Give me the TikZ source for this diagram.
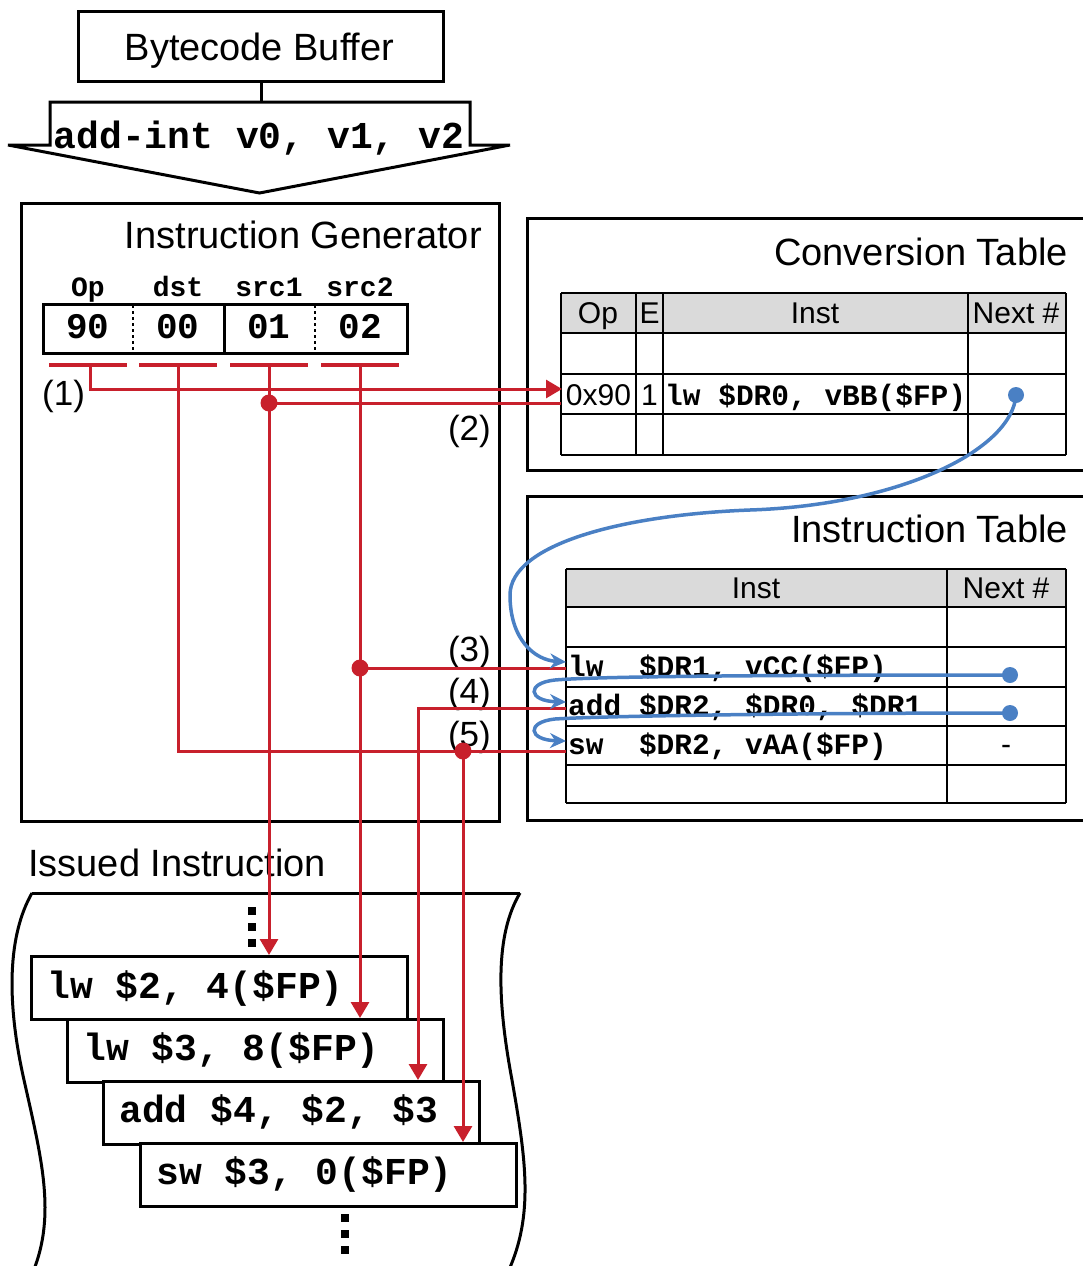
\documentclass[tikz,border=0pt]{standalone}
\usepackage{fontspec}
\setmainfont{Liberation Sans}
\setmonofont{Liberation Mono}
\usetikzlibrary{arrows.meta}
\definecolor{cred}{RGB}{200,32,44}
\definecolor{cblue}{RGB}{74,128,196}
\definecolor{chdr}{RGB}{218,218,218}
\begin{document}
\begin{tikzpicture}[x=1pt,y=-1pt,
  box/.style={draw,line width=3pt},
  grid/.style={draw,line width=2.5pt},
  sansA/.style={font=\fontsize{38}{40}\selectfont},
  sansB/.style={font=\fontsize{30}{32}\selectfont},
  sansC/.style={font=\fontsize{35}{37}\selectfont},
  monoA/.style={font=\fontsize{38}{40}\selectfont\ttfamily\bfseries},
  monoV/.style={font=\fontsize{36}{40}\selectfont\ttfamily\bfseries},
  monoB/.style={font=\fontsize{29.5}{31}\selectfont\ttfamily\bfseries},
  monoC/.style={font=\fontsize{28}{30}\selectfont\ttfamily\bfseries},
  txt/.style={inner sep=0pt},
  redl/.style={draw=cred,line width=3pt},
  redu/.style={draw=cred,line width=4.5pt},
  redarr/.style={redl,-{Triangle[length=16pt,width=18pt]}},
  bluel/.style={draw=cblue,line width=3.5pt,-{Stealth[length=16pt,width=15pt]}},
  dotr/.style={fill=cred,circle,inner sep=0pt,minimum size=17pt},
  dotb/.style={fill=cblue,circle,inner sep=0pt,minimum size=16pt},
  ibox/.style={box,fill=white,anchor=north west,minimum width=376pt,minimum height=63pt,inner sep=0pt},
]
\useasboundingbox (0,0) rectangle (1082,1266);

% ---------- Bytecode buffer ----------
\node[box,minimum width=365pt,minimum height=70pt,anchor=north west] (bb) at (77,10) {};
\node[txt,sansA,anchor=base] (bbt) at (259.5,60) {Bytecode Buffer};
\coordinate (bcin) at (bb.south |- 0,102);
\draw[box] (bb.south) -- (bcin);
\draw[box,line join=miter] (50,102) -- (470,102) -- (470,145) -- (510,145) -- (259.5,193) -- (8,145) -- (50,145) -- cycle;
\node[txt,monoA,anchor=base] (bct) at (259,148) {add-int v0, v1, v2};

% ---------- Instruction generator ----------
\node[box,minimum width=478pt,minimum height=618pt,anchor=north west] (ig) at (20,202) {};
\node[txt,sansA,anchor=base east] (igt) at (482,248) {Instruction Generator};
\node[txt,monoC,anchor=base] (lop) at (88,296) {Op};
\node[txt,monoC,anchor=base] (ldst) at (178,296) {dst};
\node[txt,monoC,anchor=base] (ls1) at (269,296) {src1};
\node[txt,monoC,anchor=base] (ls2) at (360,296) {src2};
\node[box,minimum width=364pt,minimum height=49pt,anchor=north west] (fld) at (42,303) {};
\draw[line width=2.5pt,dash pattern=on 3pt off 3pt] (133,305) -- (133,350);
\draw[line width=3pt] (224,303) -- (224,352);
\draw[line width=2.5pt,dash pattern=on 3pt off 3pt] (315,305) -- (315,350);
\node[txt,monoV,anchor=base] (vop) at (88,338) {90};
\node[txt,monoV,anchor=base] (vdst) at (178,338) {00};
\node[txt,monoV,anchor=base] (vs1) at (269,338) {01};
\node[txt,monoV,anchor=base] (vs2) at (360,338) {02};
\draw[redu] (49,365) -- (127,365);
\draw[redu] (139,365) -- (217,365);
\draw[redu] (230,365) -- (308,365);
\draw[redu] (321,365) -- (399,365);
\coordinate (op) at (90,365);
\coordinate (dst) at (178,365);
\coordinate (s1) at (269,365);
\coordinate (s2) at (360,365);
\node[txt,sansC,anchor=base west] (n1) at (42,405) {(1)};
\node[txt,sansC,anchor=base east] (n2) at (491,440) {(2)};
\node[txt,sansC,anchor=base east] (n3) at (491,661) {(3)};
\node[txt,sansC,anchor=base east] (n4) at (491,703) {(4)};
\node[txt,sansC,anchor=base east] (n5) at (491,746) {(5)};

% ---------- Conversion table ----------
\draw[box] (1095,218) -- (527,218) -- (527,470) -- (1095,470);
\node[txt,sansA,anchor=base east] (ctt) at (1068,265) {Conversion Table};
\fill[chdr] (561,293) rectangle (1066,333);
\foreach \yy in {293,333,374,414,455} \draw[grid] (561,\yy) -- (1066,\yy);
\foreach \xx in {561,636,663,968,1066} \draw[grid] (\xx,293) -- (\xx,455);
\node[txt,sansB,anchor=base] (cth1) at (598,323) {Op};
\node[txt,sansB,anchor=base] (cth2) at (649.5,323) {E};
\node[txt,sansB,anchor=base] (cth3) at (815,323) {Inst};
\node[txt,sansB,anchor=base] (cth4) at (1016,323) {Next \#};
\node[txt,sansB,anchor=base] (ctop) at (598.5,405) {0x90};
\node[txt,sansB,anchor=base] (cte) at (649.5,405) {1};
\node[txt,monoB,anchor=base west] (ctinst) at (665,405) {lw \$DR0, vBB(\$FP)};
\coordinate (ctin1) at (562,389);
\coordinate (ctin2) at (561,403);

% ---------- Instruction table ----------
\draw[box] (1095,496) -- (527,496) -- (527,820) -- (1095,820);
\node[txt,sansA,anchor=base east] (itt) at (1068,542) {Instruction Table};
\fill[chdr] (566,569) rectangle (1066,607);
\foreach \yy in {569,607,647,687,726,765,803} \draw[grid] (566,\yy) -- (1066,\yy);
\foreach \xx in {566,947,1066} \draw[grid] (\xx,569) -- (\xx,803);
\node[txt,sansB,anchor=base] (ith1) at (756,598) {Inst};
\node[txt,sansB,anchor=base] (ith2) at (1006,598) {Next \#};
\node[txt,monoB,anchor=base west] (itr1) at (568,676) {lw~~\$DR1, vCC(\$FP)};
\node[txt,monoB,anchor=base west] (itr2) at (568,715) {add \$DR2, \$DR0, \$DR1};
\node[txt,monoB,anchor=base west] (itr3) at (568,754) {sw~~\$DR2, vAA(\$FP)};
\node[txt,sansB,anchor=base] (itn3) at (1006,754) {-};
\coordinate (itlw) at (566,668);
\coordinate (itadd) at (566,708);
\coordinate (itsw) at (566,751);

% ---------- Issued instructions ----------
\node[txt,sansA,anchor=base west] (iit) at (28,876) {Issued Instruction};
\draw[box] (32,893) -- (520,893);
\draw[box] (32,893) .. controls (8,935) and (6,1000) .. (24,1080) .. controls (42,1160) and (56,1215) .. (33,1272);
\draw[box] (520,893) .. controls (495,935) and (497,1000) .. (512,1080) .. controls (526,1160) and (534,1215) .. (508,1272);
\foreach \yy in {907,923,939} \fill (248,\yy) rectangle +(8,8);
\foreach \yy in {1214,1230,1246} \fill (341,\yy) rectangle +(8,8);
\node[ibox] (i1) at (30,955) {};
\node[ibox] (i2) at (66,1018) {};
\node[ibox] (i3) at (102,1080) {};
\node[ibox] (i4) at (139,1142) {};
\node[txt,monoA,anchor=base west] (i1t) at (47,998) {lw \$2, 4(\$FP)};
\node[txt,monoA,anchor=base west] (i2t) at (83,1060) {lw \$3, 8(\$FP)};
\node[txt,monoA,anchor=base west] (i3t) at (119,1122) {add \$4, \$2, \$3};
\node[txt,monoA,anchor=base west] (i4t) at (156,1184) {sw \$3, 0(\$FP)};

% ---------- Red connectors ----------
\coordinate (j2) at (269,403);
\coordinate (j3) at (360,668);
\coordinate (c4) at (418,708);
\coordinate (j5) at (463,751);
\draw[redarr] (op) -- (90,389) -- (ctin1);
\draw[redl] (j2) -- (ctin2);
\draw[redarr] (s1) -- (s1 |- i1.north);
\draw[redarr] (s2) -- (s2 |- i2.north);
\draw[redl] (j3) -- (itlw);
\draw[redarr] (itadd) -- (c4) -- (c4 |- i3.north);
\draw[redl] (dst) -- (178,751) -- (itsw);
\draw[redarr] (j5) -- (j5 |- i4.north);
\node[dotr] (dj2) at (j2) {};
\node[dotr] (dj3) at (j3) {};
\node[dotr] (dj5) at (j5) {};

% ---------- Blue connectors ----------
\node[dotb] (bd1) at (1016,395) {};
\node[dotb] (bd2) at (1010,675) {};
\node[dotb] (bd3) at (1010,713) {};
\draw[bluel] (bd1.center) .. controls (1012,450) and (900,505) .. (750,510) .. controls (620,515) and (510,545) .. (510,595) .. controls (510,640) and (535,660) .. (566,662);
\draw[bluel] (bd2.center) .. controls (800,675) and (600,676) .. (555,680) .. controls (526,683) and (528,701) .. (566,702);
\draw[bluel] (bd3.center) .. controls (800,713) and (600,716) .. (555,719) .. controls (526,722) and (528,740) .. (566,741);
\end{tikzpicture}
\end{document}
